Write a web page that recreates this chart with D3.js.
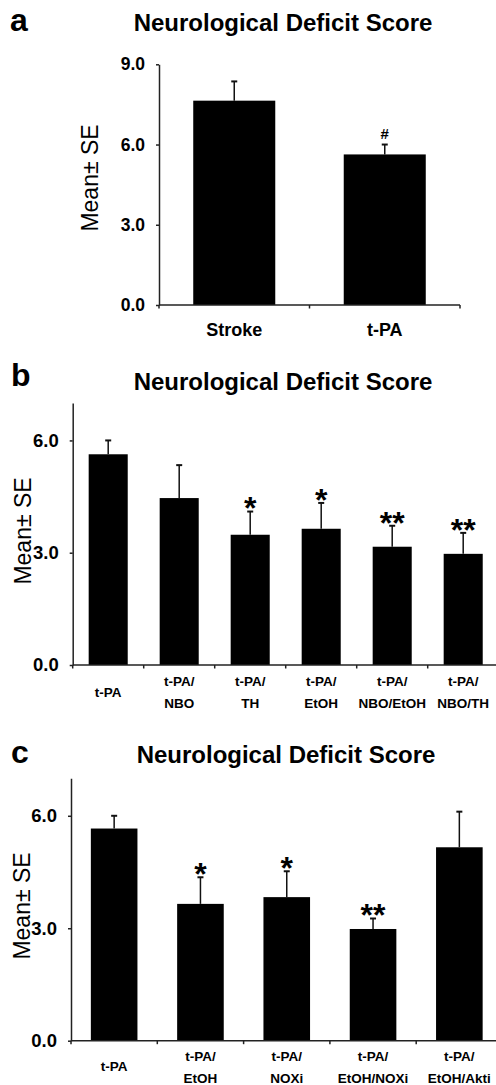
<!DOCTYPE html>
<html>
<head>
<meta charset="utf-8">
<script src="https://cdn.jsdelivr.net/npm/d3@7"></script>
<style>
  html, body { margin: 0; padding: 0; background: #fff; }
  svg { display: block; }
  text { font-family: "Liberation Sans", Arial, sans-serif; }
</style>
</head>
<body>
<svg id="chart" width="496" height="1085"></svg>
<script>
// ---- Data ----
const titleText = "Neurological Deficit Score";
const yLabelText = "Mean\u00B1 SE";

const aCategories = [["Stroke"], ["t-PA"]];
const aMeans = [7.64, 5.63];
const aSE = [0.72, 0.37];
const aMarks = ["", "#"];
const aTicks = [0, 3, 6, 9];

const bCategories = [["t-PA"], ["t-PA/", "NBO"], ["t-PA/", "TH"], ["t-PA/", "EtOH"], ["t-PA/", "NBO/EtOH"], ["t-PA/", "NBO/TH"]];
const bMeans = [5.63, 4.46, 3.48, 3.64, 3.16, 2.97];
const bSE = [0.37, 0.88, 0.62, 0.69, 0.56, 0.56];
const bMarks = ["", "", "*", "*", "**", "**"];
const bTicks = [0, 3, 6];

const cCategories = [["t-PA"], ["t-PA/", "EtOH"], ["t-PA/", "NOXi"], ["t-PA/", "EtOH/NOXi"], ["t-PA/", "EtOH/Akti"]];
const cMeans = [5.66, 3.65, 3.83, 2.98, 5.16];
const cSE = [0.34, 0.71, 0.69, 0.28, 0.95];
const cMarks = ["", "*", "*", "**", ""];
const cTicks = [0, 3, 6];

// ---- Drawing ----
const svg = d3.select("#chart");

function panel(cfg) {
  const g = svg.append("g");
  const n = cfg.categories.length;
  const x = d3.scaleBand().domain(d3.range(n)).range([cfg.x0, cfg.x1]).paddingInner(cfg.pad).paddingOuter(cfg.pad / 2);
  const y = d3.scaleLinear().domain([0, cfg.yMax]).range([cfg.y0, cfg.y1]);

  // panel letter
  g.append("text").attr("x", cfg.letterX).attr("y", cfg.letterY)
    .attr("font-size", 32).attr("font-weight", "bold").text(cfg.letter);
  // title
  g.append("text").attr("x", cfg.titleX).attr("y", cfg.titleY)
    .attr("text-anchor", "middle").attr("font-size", 24).attr("font-weight", "bold").text(titleText);
  // y label
  g.append("text").attr("transform", `translate(${cfg.yLabX},${cfg.yLabY}) rotate(-90)`)
    .attr("text-anchor", "middle").attr("dominant-baseline", "central")
    .attr("font-size", 23).text(yLabelText);

  // bars
  g.selectAll("rect.bar").data(cfg.means).join("rect")
    .attr("x", (d, i) => x(i)).attr("width", x.bandwidth())
    .attr("y", d => y(d)).attr("height", d => y(0) - y(d))
    .attr("fill", "#000");

  // error bars (upper only)
  const cap = 3;
  cfg.means.forEach((m, i) => {
    const cx = x(i) + x.bandwidth() / 2;
    g.append("line").attr("x1", cx).attr("x2", cx)
      .attr("y1", y(m)).attr("y2", y(m + cfg.se[i]))
      .attr("stroke", "#111").attr("stroke-width", 1.5);
    g.append("line").attr("x1", cx - cap).attr("x2", cx + cap)
      .attr("y1", y(m + cfg.se[i])).attr("y2", y(m + cfg.se[i]))
      .attr("stroke", "#111").attr("stroke-width", 2);
    if (cfg.marks[i]) {
      const isHash = cfg.marks[i] === "#";
      const fs = isHash ? 15 : 32;
      const top = y(m + cfg.se[i]);
      g.append("text").attr("x", cx).attr("text-anchor", "middle")
        .attr("font-weight", "bold").attr("font-size", fs)
        .attr("y", isHash ? top - 6 : top - 10 + 0.56 * fs)
        .text(cfg.marks[i]);
    }
  });

  // axes
  const yAxis = d3.axisLeft(y).tickValues(cfg.ticks).tickFormat(d3.format(".1f"))
    .tickSizeInner(3).tickSizeOuter(0).tickPadding(11);
  const ya = g.append("g").attr("transform", `translate(${cfg.x0},0)`).call(yAxis);
  ya.select(".domain").attr("stroke", "#222").attr("stroke-width", 1.5);
  ya.selectAll(".tick line").attr("stroke", "#222").attr("stroke-width", 1.5);
  ya.selectAll(".tick text").attr("font-size", cfg.tickFs).attr("font-weight", "bold")
    .attr("fill", "#000").attr("font-family", "'Liberation Sans', Arial, sans-serif");

  const bounds = d3.range(n + 1).map(i => cfg.x0 + i * (cfg.x1 - cfg.x0) / n);
  g.append("line").attr("x1", cfg.x0).attr("x2", cfg.x1).attr("y1", y(0)).attr("y2", y(0))
    .attr("stroke", "#222").attr("stroke-width", 1.5);
  g.selectAll("line.xt").data(bounds).join("line")
    .attr("x1", d => d).attr("x2", d => d).attr("y1", y(0)).attr("y2", y(0) + 3.5)
    .attr("stroke", "#222").attr("stroke-width", 1.5);

  // x labels
  cfg.categories.forEach((lines, i) => {
    const cx = x(i) + x.bandwidth() / 2;
    const t = g.append("text").attr("text-anchor", "middle")
      .attr("font-size", cfg.xFs).attr("font-weight", "bold");
    if (lines.length === 1) {
      t.attr("x", cx).attr("y", cfg.xLabY1).text(lines[0]);
    } else {
      lines.forEach((ln, k) => {
        t.append("tspan").attr("x", cx).attr("y", k === 0 ? cfg.xLabY2a : cfg.xLabY2b).text(ln);
      });
    }
  });
}

panel({
  letter: "a", letterX: 10, letterY: 31, titleX: 283, titleY: 31,
  categories: aCategories, means: aMeans, se: aSE, marks: aMarks, ticks: aTicks,
  x0: 159, x1: 460, pad: 0.455, y0: 305, y1: 64.3, yMax: 9,
  yLabX: 90, yLabY: 178, tickFs: 17.5, xFs: 18, xLabY1: 336
});

panel({
  letter: "b", letterX: 11, letterY: 386, titleX: 283, titleY: 390,
  categories: bCategories, means: bMeans, se: bSE, marks: bMarks, ticks: bTicks,
  x0: 72.7, x1: 498.7, pad: 0.45, y0: 665, y1: 403, yMax: 7,
  yLabX: 23, yLabY: 531, tickFs: 18.5, xFs: 13.5, xLabY1: 696.5, xLabY2a: 686, xLabY2b: 708
});

panel({
  letter: "c", letterX: 11, letterY: 763, titleX: 286, titleY: 763,
  categories: cCategories, means: cMeans, se: cSE, marks: cMarks, ticks: cTicks,
  x0: 71, x1: 502.5, pad: 0.46, y0: 1040.7, y1: 778.3, yMax: 7,
  yLabX: 22, yLabY: 906, tickFs: 18.5, xFs: 13.5, xLabY1: 1071, xLabY2a: 1061, xLabY2b: 1083
});
</script>
</body>
</html>
